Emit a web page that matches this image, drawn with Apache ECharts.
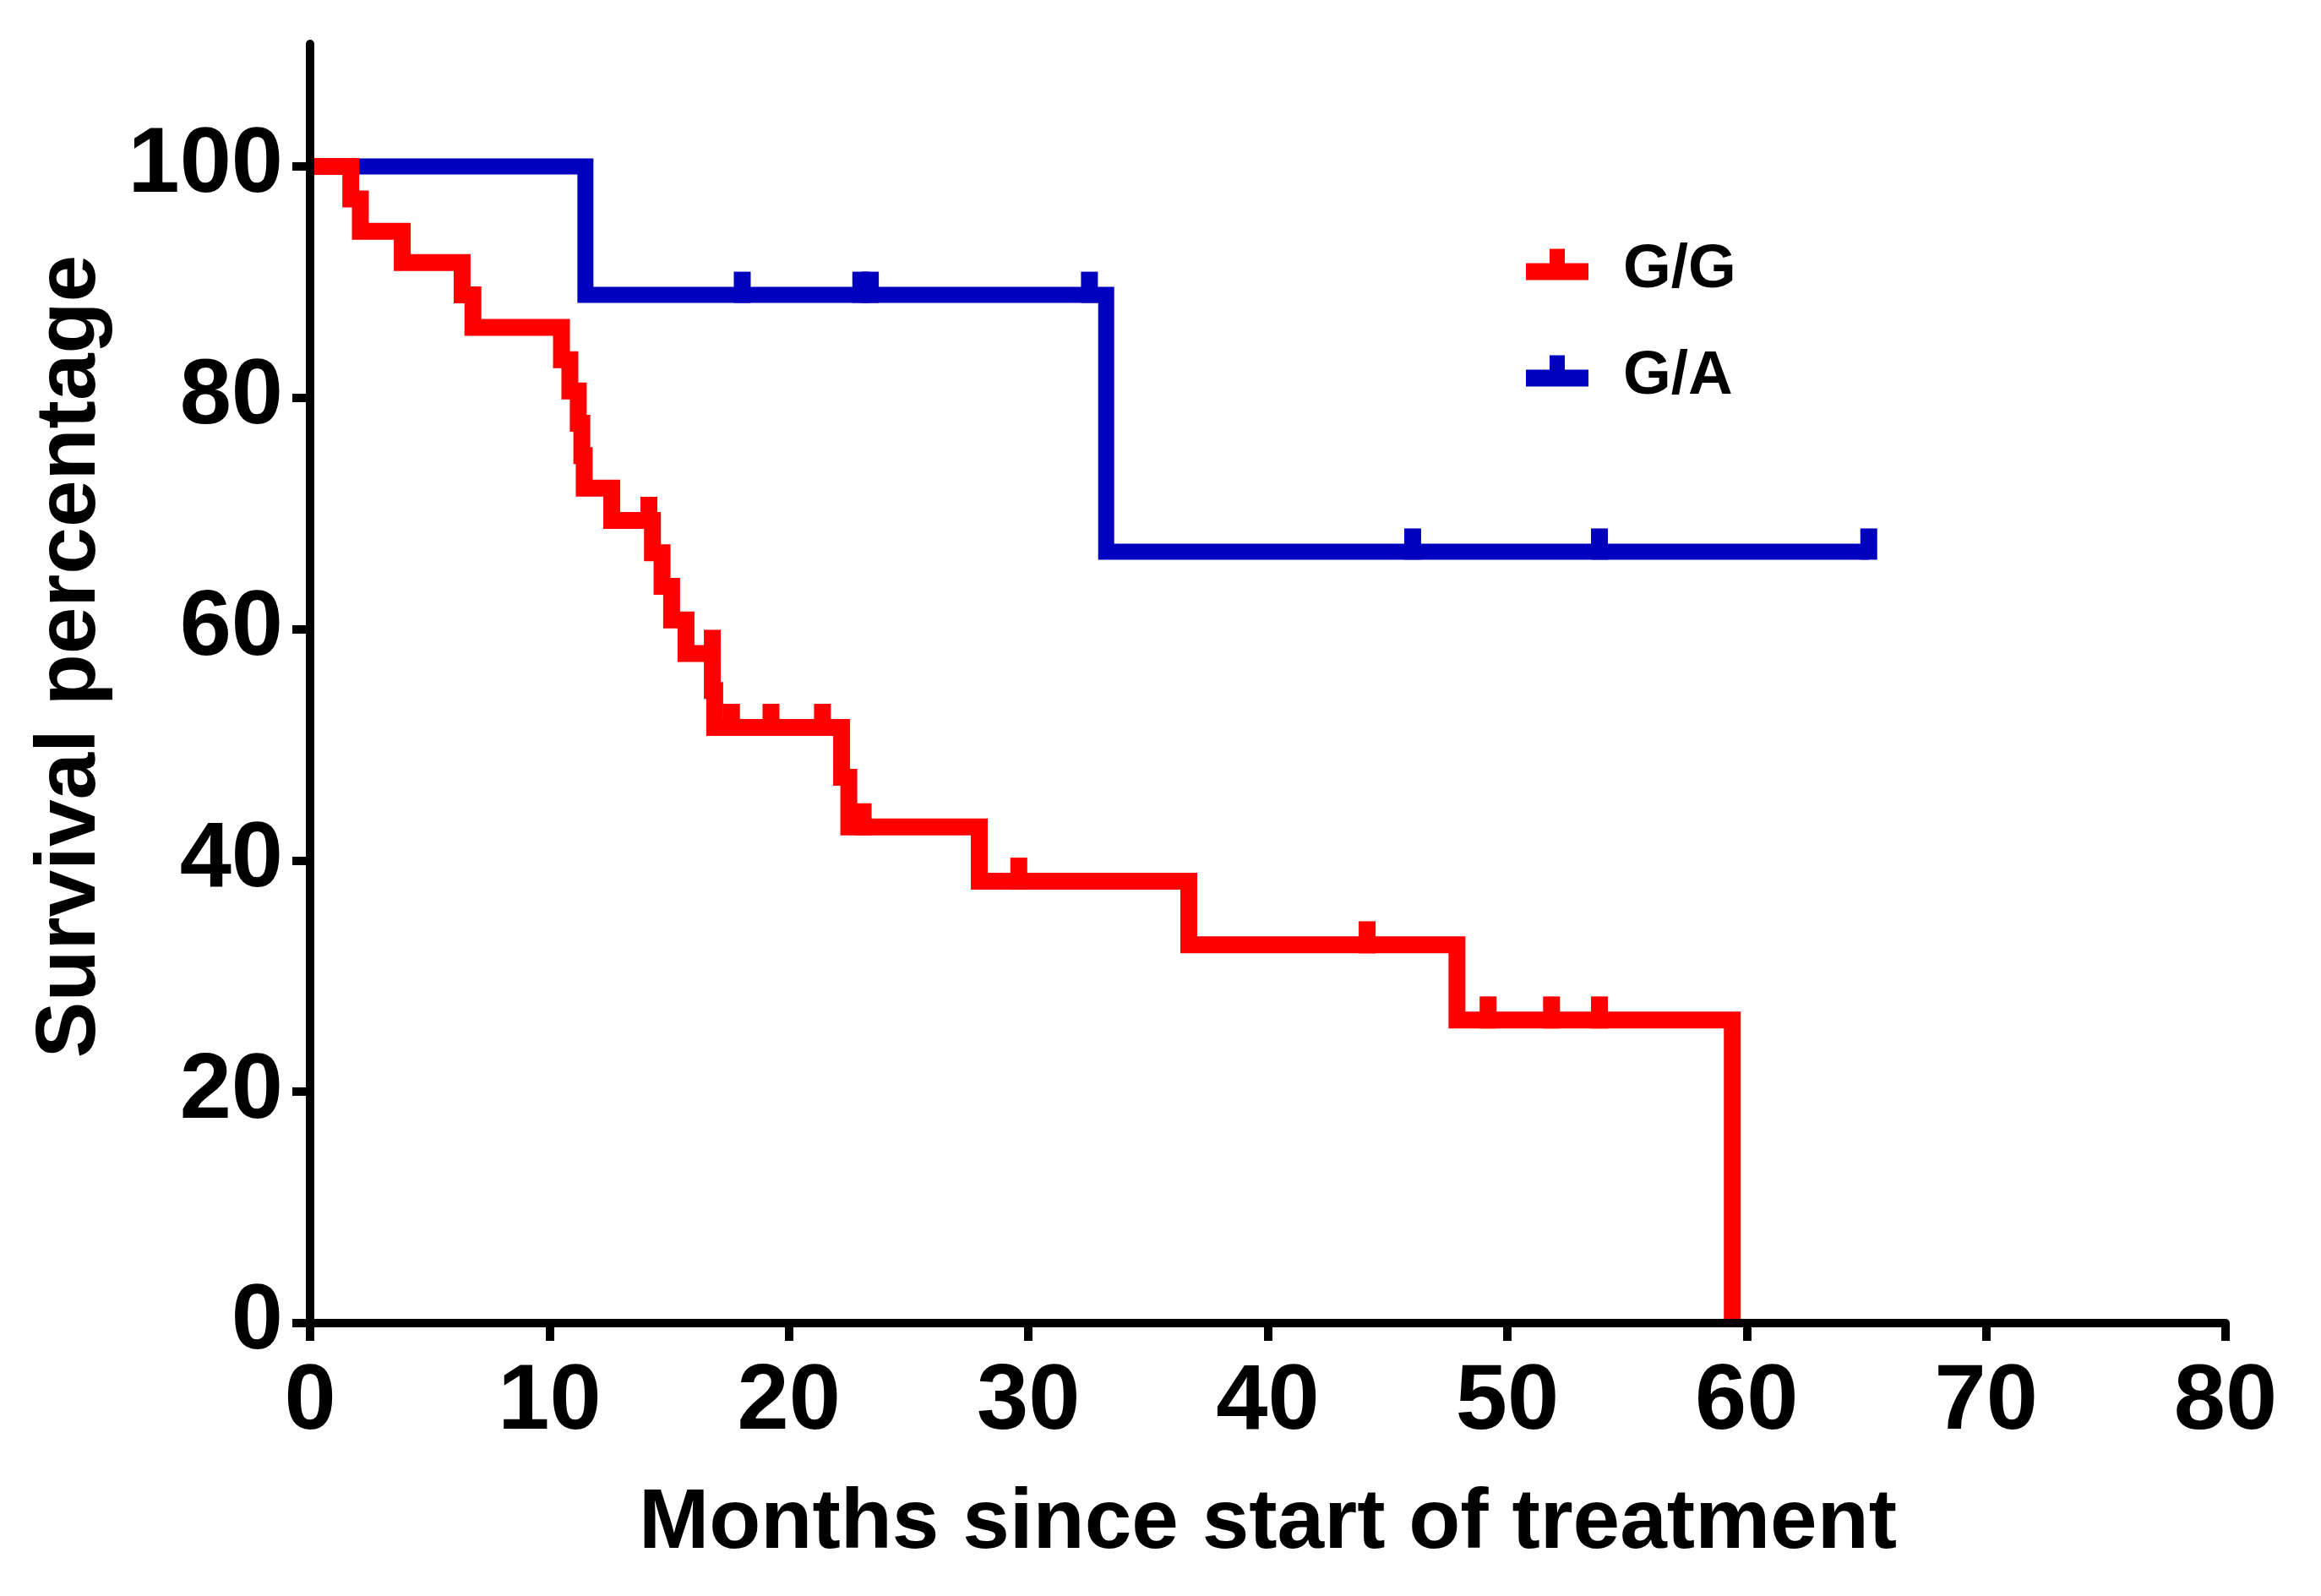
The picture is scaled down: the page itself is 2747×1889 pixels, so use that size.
<!DOCTYPE html>
<html>
<head>
<meta charset="utf-8">
<script src="https://cdn.jsdelivr.net/npm/echarts@6/dist/echarts.min.js"></script>
<style>
html,body{margin:0;padding:0;background:#fff;}
#chart{width:2747px;height:1889px;}
</style>
</head>
<body>
<div id="chart"></div>
<script>
// Kaplan-Meier step data
const seriesNames = ['G/G', 'G/A'];
const ggTimes = [0, 1.7, 2.1, 3.85, 6.35, 6.8, 10.5, 10.85, 11.2, 11.35, 11.45, 12.6, 14.3, 14.7, 15.1, 15.7, 16.8, 16.9, 22.2, 22.5, 27.95, 36.7, 47.9, 59.4];
const ggSurv  = [100, 97.2, 94.4, 91.7, 88.9, 86.1, 83.3, 80.6, 77.8, 75.0, 72.2, 69.4, 66.6, 63.7, 60.8, 57.9, 54.7, 51.5, 47.2, 42.9, 38.2, 32.7, 26.2, 0];
const ggCensorTimes = [14.15, 16.8, 17.6, 19.25, 21.4, 23.1, 29.6, 44.15, 49.2, 51.85, 53.85];
const ggCensorSurv  = [69.4, 57.9, 51.5, 51.5, 51.5, 42.9, 38.2, 32.7, 26.2, 26.2, 26.2];

const gaTimes = [0, 11.5, 33.25, 65.1];
const gaSurv  = [100, 88.9, 66.7, 66.7];
const gaCensorTimes = [18.05, 23.0, 23.4, 32.55, 46.05, 53.85, 65.1];
const gaCensorSurv  = [88.9, 88.9, 88.9, 88.9, 66.7, 66.7, 66.7];

const xTicks = [0, 10, 20, 30, 40, 50, 60, 70, 80];
const yTicks = [0, 20, 40, 60, 80, 100];

const RED = '#ff0000';
const BLUE = '#0000be';
const FONT = 'Liberation Sans, Arial, sans-serif';

const zip = (a, b) => a.map((v, i) => [v, b[i]]);
// inverted-T legend marker; the trailing moveTo reserves empty room below so the label sits lower
const legendIcon = 'path://M0,17 L28,17 L28,0 L46,0 L46,17 L74,17 L74,37 L0,37 Z M0,51';

const chart = echarts.init(document.getElementById('chart'), null, {renderer: 'canvas'});
chart.setOption({
  animation: false,
  backgroundColor: '#ffffff',
  grid: {left: 367, right: 113, top: 52, bottom: 323, containLabel: false, outerBoundsMode: 'none'},
  legend: {
    orient: 'vertical',
    left: 1801,
    top: 277,
    itemWidth: 74,
    itemHeight: 51,
    itemGap: 50,
    itemStyle: {borderWidth: 0},
    textStyle: {fontSize: 73, fontWeight: 'bold', color: '#000', fontFamily: FONT, lineHeight: 76, padding: [0, 0, 0, 36]},
    data: [{name: seriesNames[0], icon: legendIcon}, {name: seriesNames[1], icon: legendIcon}]
  },
  xAxis: {
    type: 'value', min: 0, max: 80, interval: 10, z: 10,
    axisLine: {show: true, lineStyle: {color: '#000', width: 10}},
    axisTick: {show: true, length: 21, lineStyle: {color: '#000', width: 10}, customValues: xTicks},
    axisLabel: {fontSize: 110, fontWeight: 'bold', color: '#000', fontFamily: FONT, margin: 40, customValues: xTicks},
    splitLine: {show: false},
    name: 'Months since start of treatment',
    nameLocation: 'middle',
    nameGap: 188,
    nameTextStyle: {fontSize: 100, fontWeight: 'bold', color: '#000', fontFamily: FONT}
  },
  yAxis: {
    type: 'value', min: 0, max: 110.6, z: 10,
    axisLine: {show: true, lineStyle: {color: '#000', width: 10}},
    axisTick: {show: true, length: 21, lineStyle: {color: '#000', width: 10}, customValues: yTicks},
    axisLabel: {fontSize: 110, fontWeight: 'bold', color: '#000', fontFamily: FONT, margin: 32, customValues: yTicks},
    splitLine: {show: false},
    name: 'Survival percentage',
    nameLocation: 'middle',
    nameGap: 233,
    nameTextStyle: {fontSize: 100, fontWeight: 'bold', color: '#000', fontFamily: FONT, padding: [0, 0, 0, 64]}
  },
  series: [
    {
      name: seriesNames[1], type: 'line', step: 'end', data: zip(gaTimes, gaSurv),
      color: BLUE, showSymbol: false, symbol: 'none', z: 2,
      lineStyle: {color: BLUE, width: 19, cap: 'butt', join: 'miter'}
    },
    {
      name: 'G/A censored', type: 'scatter', data: zip(gaCensorTimes, gaCensorSurv),
      symbol: 'rect', symbolSize: [20, 37], symbolOffset: [0, -9], z: 3,
      itemStyle: {color: BLUE, opacity: 1}
    },
    {
      name: seriesNames[0], type: 'line', step: 'end', data: zip(ggTimes, ggSurv),
      color: RED, showSymbol: false, symbol: 'none', z: 4,
      lineStyle: {color: RED, width: 20, cap: 'butt', join: 'miter'}
    },
    {
      name: 'G/G censored', type: 'scatter', data: zip(ggCensorTimes, ggCensorSurv),
      symbol: 'rect', symbolSize: [20, 38], symbolOffset: [0, -9], z: 5,
      itemStyle: {color: RED, opacity: 1}
    }
  ]
});
</script>
</body>
</html>
